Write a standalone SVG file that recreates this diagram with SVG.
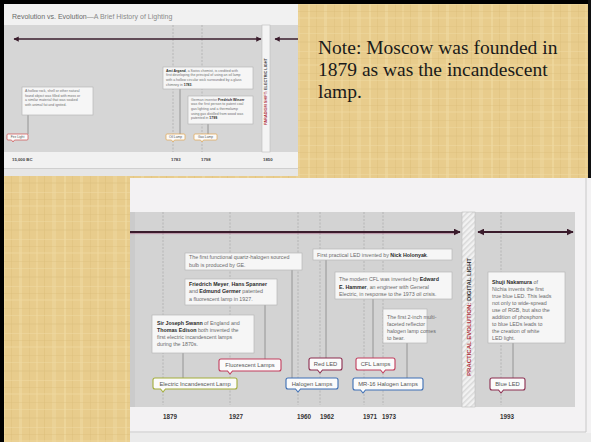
<svg xmlns="http://www.w3.org/2000/svg" width="591" height="442" viewBox="0 0 591 442">
<defs>
<pattern id="papyrus" width="61" height="47" patternUnits="userSpaceOnUse">
<rect width="61" height="47" fill="#e8cc8c"/>
<rect x="3" width="2" height="47" fill="#f0daa2" opacity="0.6"/>
<rect x="11" width="1" height="47" fill="#d8b974" opacity="0.35"/>
<rect x="19" width="3" height="47" fill="#f2dea8" opacity="0.45"/>
<rect x="29" width="1" height="47" fill="#dbbd7a" opacity="0.4"/>
<rect x="36" width="2" height="47" fill="#efd89e" opacity="0.5"/>
<rect x="44" width="1" height="47" fill="#d6b670" opacity="0.35"/>
<rect x="52" width="4" height="47" fill="#f1dca5" opacity="0.4"/>
<rect y="4" width="61" height="1" fill="#f0daa3" opacity="0.5"/>
<rect y="11" width="61" height="1" fill="#d8ba76" opacity="0.3"/>
<rect y="17" width="61" height="2" fill="#efd9a0" opacity="0.4"/>
<rect y="26" width="61" height="1" fill="#dabd7c" opacity="0.35"/>
<rect y="33" width="61" height="1" fill="#f0dba4" opacity="0.45"/>
<rect y="41" width="61" height="2" fill="#ddc080" opacity="0.3"/>
</pattern>
<pattern id="hatch" width="4" height="4" patternUnits="userSpaceOnUse" patternTransform="rotate(45)">
<rect width="4" height="4" fill="#f2f2f2"/>
<rect width="1.5" height="4" fill="#d9d9d9"/>
</pattern>
<marker id="ah" viewBox="0 0 10 10" refX="9" refY="5" markerWidth="3.5" markerHeight="3.5" orient="auto-start-reverse"><path d="M0,0 L10,5 L0,10 z" fill="#3a1c2c"/></marker>
</defs>
<style>
.box{fill:#f6f6f6;stroke:#b8b8b8;stroke-width:0.7}
.t1{font-family:"Liberation Sans",Arial,sans-serif;font-size:3.5px;fill:#707070}
.t2{font-family:"Liberation Sans",Arial,sans-serif;font-size:5.3px;fill:#6a6a6a}
.b{font-weight:bold;fill:#2a2a2a}
.tag{fill:#fbfbfb;stroke-width:1.1}
.tagu{fill:#fbfbfb;stroke-width:0.7}
.tagt{font-family:"Liberation Sans",Arial,sans-serif;font-size:5.8px;fill:#555;text-anchor:middle}
.tagtu{font-family:"Liberation Sans",Arial,sans-serif;font-size:3.3px;fill:#555;text-anchor:middle}
.yr{font-family:"Liberation Sans",Arial,sans-serif;font-weight:bold;font-size:6.3px;fill:#333}
.yru{font-family:"Liberation Sans",Arial,sans-serif;font-weight:bold;font-size:4.3px;fill:#444}
.dash{stroke:#a9a9a9;stroke-width:0.7;stroke-dasharray:2 1.5}
.lead{stroke:#8c8c8c;stroke-width:0.9;fill:none}
.arrow{stroke:#3a1c2c;fill:none}
.grn{stroke:#a3ae3a}.red{stroke:#c23c5c}.blu{stroke:#3d6fb5}.mar{stroke:#8b2c4f}.org{stroke:#e3a54a}.fir{stroke:#d04a4a}
</style>

<rect width="591" height="442" fill="url(#papyrus)"/>
<rect x="0" y="0" width="591" height="4" fill="#000"/>
<rect x="0" y="0" width="4" height="442" fill="#000"/>
<rect x="588" y="0" width="3" height="178" fill="#111"/>

<!-- upper page -->
<g id="upper-page">
<rect x="4" y="4" width="294" height="172" fill="#f1f1f1"/>
<text x="12" y="18.5" font-family="Liberation Sans, Arial, sans-serif" font-size="7" fill="#6a6a6a">Revolution vs. Evolution<tspan fill="#8a8a8a">—A Brief History of Lighting</tspan></text>
<rect x="4" y="25" width="294" height="127" fill="#d6d6d6"/>
<rect x="4" y="168" width="294" height="1" fill="#cfcfcf"/>
<rect x="4" y="169" width="294" height="7" fill="#e6e6e6"/>
<line class="dash" x1="173" y1="25" x2="173" y2="152"/>
<line class="dash" x1="202" y1="25" x2="202" y2="152"/>
<rect x="262" y="25" width="8" height="127" fill="#f4f4f4" stroke="#bdbdbd" stroke-width="0.6"/>
<text transform="translate(267.3,125) rotate(-90)" font-family="Liberation Sans, Arial, sans-serif" font-weight="bold" font-size="3.5" textLength="67" lengthAdjust="spacingAndGlyphs" fill="#b0303a">PARADIGM SHIFT: <tspan fill="#333">ELECTRIC LIGHT</tspan></text>
<text class="yru" x="12" y="160.5">15,000 BC</text>
<text class="yru" x="171" y="160.5">1783</text>
<text class="yru" x="201" y="160.5">1798</text>
<text class="yru" x="263" y="160.5">1850</text>
</g>

<!-- lower page -->
<g id="lower-page">
<rect x="130" y="178" width="461" height="264" fill="#f3f2f3"/>
<rect x="130" y="212" width="445" height="195" fill="#d3d3d3"/>
<rect x="130" y="212" width="5" height="195" fill="#c6c6c6" opacity="0.6"/>
<line x1="586" y1="178" x2="586" y2="432" stroke="#c8c8c8" stroke-width="1"/>
<line x1="130" y1="432" x2="586" y2="432" stroke="#c8c8c8" stroke-width="1"/>
<rect x="130" y="433" width="461" height="9" fill="#ebebeb"/>
<line class="dash" x1="163" y1="212" x2="163" y2="405"/>
<line class="dash" x1="230" y1="212" x2="230" y2="405"/>
<line class="dash" x1="298" y1="212" x2="298" y2="405"/>
<line class="dash" x1="320" y1="212" x2="320" y2="405"/>
<line class="dash" x1="364" y1="212" x2="364" y2="405"/>
<line class="dash" x1="383" y1="212" x2="383" y2="405"/>
<line class="dash" x1="501" y1="212" x2="501" y2="405"/>
<rect x="462" y="212" width="13" height="195" fill="url(#hatch)" stroke="#bdbdbd" stroke-width="0.6"/>
<text transform="translate(470.5,376) rotate(-90)" font-family="Liberation Sans, Arial, sans-serif" font-weight="bold" font-size="6.2" textLength="118" lengthAdjust="spacingAndGlyphs" fill="#b0303a">PRACTICAL EVOLUTION: <tspan fill="#333">DIGITAL LIGHT</tspan></text>
<text class="yr" x="163" y="419">1879</text>
<text class="yr" x="229" y="419">1927</text>
<text class="yr" x="297" y="419">1960</text>
<text class="yr" x="320" y="419">1962</text>
<text class="yr" x="363" y="419">1971</text>
<text class="yr" x="382" y="419">1973</text>
<text class="yr" x="500" y="419">1993</text>
</g>

<!-- connectors -->
<g id="connectors">
<line class="arrow" x1="14" y1="39" x2="261" y2="39" stroke-width="1.5" marker-start="url(#ah)" marker-end="url(#ah)"/>
<line class="arrow" x1="275" y1="39" x2="298" y2="39" stroke-width="1.5" marker-start="url(#ah)"/>
<line x1="130" y1="233.6" x2="458" y2="233.6" stroke="#a0507a" stroke-width="0.8" opacity="0.6"/>
<line class="arrow" x1="130" y1="232" x2="460" y2="232" stroke-width="2" marker-end="url(#ah)"/>
<line class="arrow" x1="478" y1="232" x2="573" y2="232" stroke-width="2" marker-start="url(#ah)" marker-end="url(#ah)"/>
<line class="lead" x1="28" y1="115" x2="28" y2="134"/>
<line class="lead" x1="180" y1="89" x2="180" y2="134"/>
<line class="lead" x1="208" y1="124" x2="208" y2="134"/>
<line class="lead" x1="183" y1="353" x2="183" y2="378"/>
<line class="lead" x1="265" y1="305" x2="265" y2="359"/>
<line class="lead" x1="292" y1="270" x2="292" y2="378"/>
<line class="lead" x1="326" y1="260" x2="326" y2="358"/>
<line class="lead" x1="373" y1="299" x2="373" y2="358"/>
<line class="lead" x1="407" y1="343" x2="407" y2="378"/>
<line class="lead" x1="513" y1="343" x2="513" y2="378"/>
</g>

<!-- upper nodes -->
<g id="note-hollow-rock">
<rect class="box" x="22" y="87" width="71" height="28"/>
<text class="t1" x="25"><tspan x="25" y="92">A hollow rock, shell or other natural</tspan><tspan x="25" y="96.5">found object was filled with moss or</tspan><tspan x="25" y="101">a similar material that was soaked</tspan><tspan x="25" y="105.5">with animal fat and ignited.</tspan></text>
</g>
<g id="note-argand">
<rect class="box" x="163" y="67" width="90" height="22"/>
<text class="t1"><tspan x="166" y="71.5"><tspan class="b">Ami Argand</tspan>, a Swiss chemist, is credited with</tspan><tspan x="166" y="76.3">first developing the principal of using an oil lamp</tspan><tspan x="166" y="81">with a hollow circular wick surrounded by a glass</tspan><tspan x="166" y="85.7">chimney in <tspan class="b">1783</tspan>.</tspan></text>
</g>
<g id="note-winzer">
<rect class="box" x="188" y="96" width="65" height="28"/>
<text class="t1"><tspan x="191" y="100.6">German inventor <tspan class="b">Fredrich Winzer</tspan></tspan><tspan x="191" y="105.3">was the first person to patent coal</tspan><tspan x="191" y="110">gas lighting and a thermolamp</tspan><tspan x="191" y="114.7">using gas distilled from wood was</tspan><tspan x="191" y="119.4">patented in <tspan class="b">1799</tspan>.</tspan></text>
</g>
<g id="tag-fire-light">
<path class="tagu fir" d="M8,134 H27 Q28,134 28,135 V139 Q28,140 27,140 H14.5 L13,142 L11.5,140 H8 Q7,140 7,139 V135 Q7,134 8,134 Z"/>
<text class="tagtu" x="17.5" y="138.2">Fire Light</text>
</g>
<g id="tag-oil-lamp">
<path class="tagu org" d="M167,134 H184 Q185,134 185,135 V139 Q185,140 184,140 H174.5 L173,142 L171.5,140 H167 Q166,140 166,139 V135 Q166,134 167,134 Z"/>
<text class="tagtu" x="175.5" y="138.2">Oil Lamp</text>
</g>
<g id="tag-gas-lamp">
<path class="tagu org" d="M195,134 H216 Q217,134 217,135 V139 Q217,140 216,140 H203.5 L202,142 L200.5,140 H195 Q194,140 194,139 V135 Q194,134 195,134 Z"/>
<text class="tagtu" x="205.5" y="138.2">Gas Lamp</text>
</g>

<!-- lower nodes -->
<g id="note-quartz">
<rect class="box" x="185" y="253" width="117" height="17"/>
<text class="t2"><tspan x="189" y="259">The first functional quartz-halogen sourced</tspan><tspan x="189" y="266.5">bulb is produced by GE.</tspan></text>
</g>
<g id="note-meyer">
<rect class="box" x="185" y="279" width="92" height="26"/>
<text class="t2"><tspan x="189" y="285.5"><tspan class="b">Friedrich Meyer</tspan>, <tspan class="b">Hans Spanner</tspan></tspan><tspan x="189" y="293">and <tspan class="b">Edmund Germer</tspan> patented</tspan><tspan x="189" y="300.5">a fluorescent lamp in 1927.</tspan></text>
</g>
<g id="note-swann">
<rect class="box" x="152" y="315" width="102" height="38"/>
<text class="t2"><tspan x="157" y="325"><tspan class="b">Sir Joseph Swann</tspan> of England and</tspan><tspan x="157" y="332"><tspan class="b">Thomas Edison</tspan> both invented the</tspan><tspan x="157" y="339">first electric incandescent lamps</tspan><tspan x="157" y="346">during the 1870s.</tspan></text>
</g>
<g id="note-holonyak">
<rect class="box" x="313" y="249" width="139" height="11"/>
<text class="t2" x="317" y="256.5">First practical LED invented by <tspan class="b">Nick Holonyak</tspan>.</text>
</g>
<g id="note-cfl">
<rect class="box" x="335" y="272" width="117" height="27"/>
<text class="t2"><tspan x="339" y="281"><tspan>The modern CFL was invented by </tspan><tspan class="b">Edward</tspan></tspan><tspan x="339" y="288.5"><tspan class="b">E. Hammer</tspan>, an engineer with General</tspan><tspan x="339" y="296">Electric, in response to the 1973 oil crisis.</tspan></text>
</g>
<g id="note-mr16">
<rect class="box" x="383" y="309" width="44" height="34"/>
<text class="t2"><tspan x="387" y="319">The first 2-inch multi-</tspan><tspan x="387" y="326">faceted reflector</tspan><tspan x="387" y="333">halogen lamp comes</tspan><tspan x="387" y="340">to bear.</tspan></text>
</g>
<g id="note-nakamura">
<rect class="box" x="488" y="272" width="77" height="71"/>
<text class="t2"><tspan x="492" y="284"><tspan class="b">Shuji Nakamura</tspan> of</tspan><tspan x="492" y="291">Nichia invents the first</tspan><tspan x="492" y="298">true blue LED. This leads</tspan><tspan x="492" y="305">not only to wide-spread</tspan><tspan x="492" y="312">use of RGB, but also the</tspan><tspan x="492" y="319">addition of phosphors</tspan><tspan x="492" y="326">to blue LEDs leads to</tspan><tspan x="492" y="333">the creation of white</tspan><tspan x="492" y="340">LED light.</tspan></text>
</g>

<g id="tag-incandescent">
<path class="tag grn" d="M155,378 H235 Q237,378 237,380 V387 Q237,389 235,389 H165.5 L163,392 L160.5,389 H155 Q153,389 153,387 V380 Q153,378 155,378 Z"/>
<text class="tagt" x="195" y="385.8">Electric Incandescent Lamp</text>
</g>
<g id="tag-fluorescent">
<path class="tag red" d="M221,359 H279 Q281,359 281,361 V369 Q281,371 279,371 H232.5 L230,374 L227.5,371 H221 Q219,371 219,369 V361 Q219,359 221,359 Z"/>
<text class="tagt" x="250" y="367.2">Fluorescent Lamps</text>
</g>
<g id="tag-halogen">
<path class="tag blu" d="M288,378 H336 Q338,378 338,380 V387 Q338,389 336,389 H300.5 L298,392 L295.5,389 H288 Q286,389 286,387 V380 Q286,378 288,378 Z"/>
<text class="tagt" x="312" y="385.8">Halogen Lamps</text>
</g>
<g id="tag-red-led">
<path class="tag mar" d="M311,358 H340 Q342,358 342,360 V368 Q342,370 340,370 H322.5 L320,373 L317.5,370 H311 Q309,370 309,368 V360 Q309,358 311,358 Z"/>
<text class="tagt" x="325.5" y="366.2">Red LED</text>
</g>
<g id="tag-cfl">
<path class="tag red" d="M358,358 H393 Q395,358 395,360 V368 Q395,370 393,370 H385.5 L383,373 L380.5,370 H358 Q356,370 356,368 V360 Q356,358 358,358 Z"/>
<text class="tagt" x="375.5" y="366.2">CFL Lamps</text>
</g>
<g id="tag-mr16">
<path class="tag blu" d="M355,378 H421 Q423,378 423,380 V388 Q423,390 421,390 H365.5 L363,393 L360.5,390 H355 Q353,390 353,388 V380 Q353,378 355,378 Z"/>
<text class="tagt" x="388" y="386.2">MR-16 Halogen Lamps</text>
</g>
<g id="tag-blue-led">
<path class="tag mar" d="M492,378 H523 Q525,378 525,380 V388 Q525,390 523,390 H503.5 L501,393 L498.5,390 H492 Q490,390 490,388 V380 Q490,378 492,378 Z"/>
<text class="tagt" x="507.5" y="386.2">Blue LED</text>
</g>

<g id="note-moscow">
<text font-family="Liberation Serif, 'Times New Roman', serif" font-size="19.5" fill="#1a1a1a"><tspan x="318" y="54">Note: Moscow was founded in</tspan><tspan x="318" y="76">1879 as was the incandescent</tspan><tspan x="318" y="98">lamp.</tspan></text>
</g>
</svg>
